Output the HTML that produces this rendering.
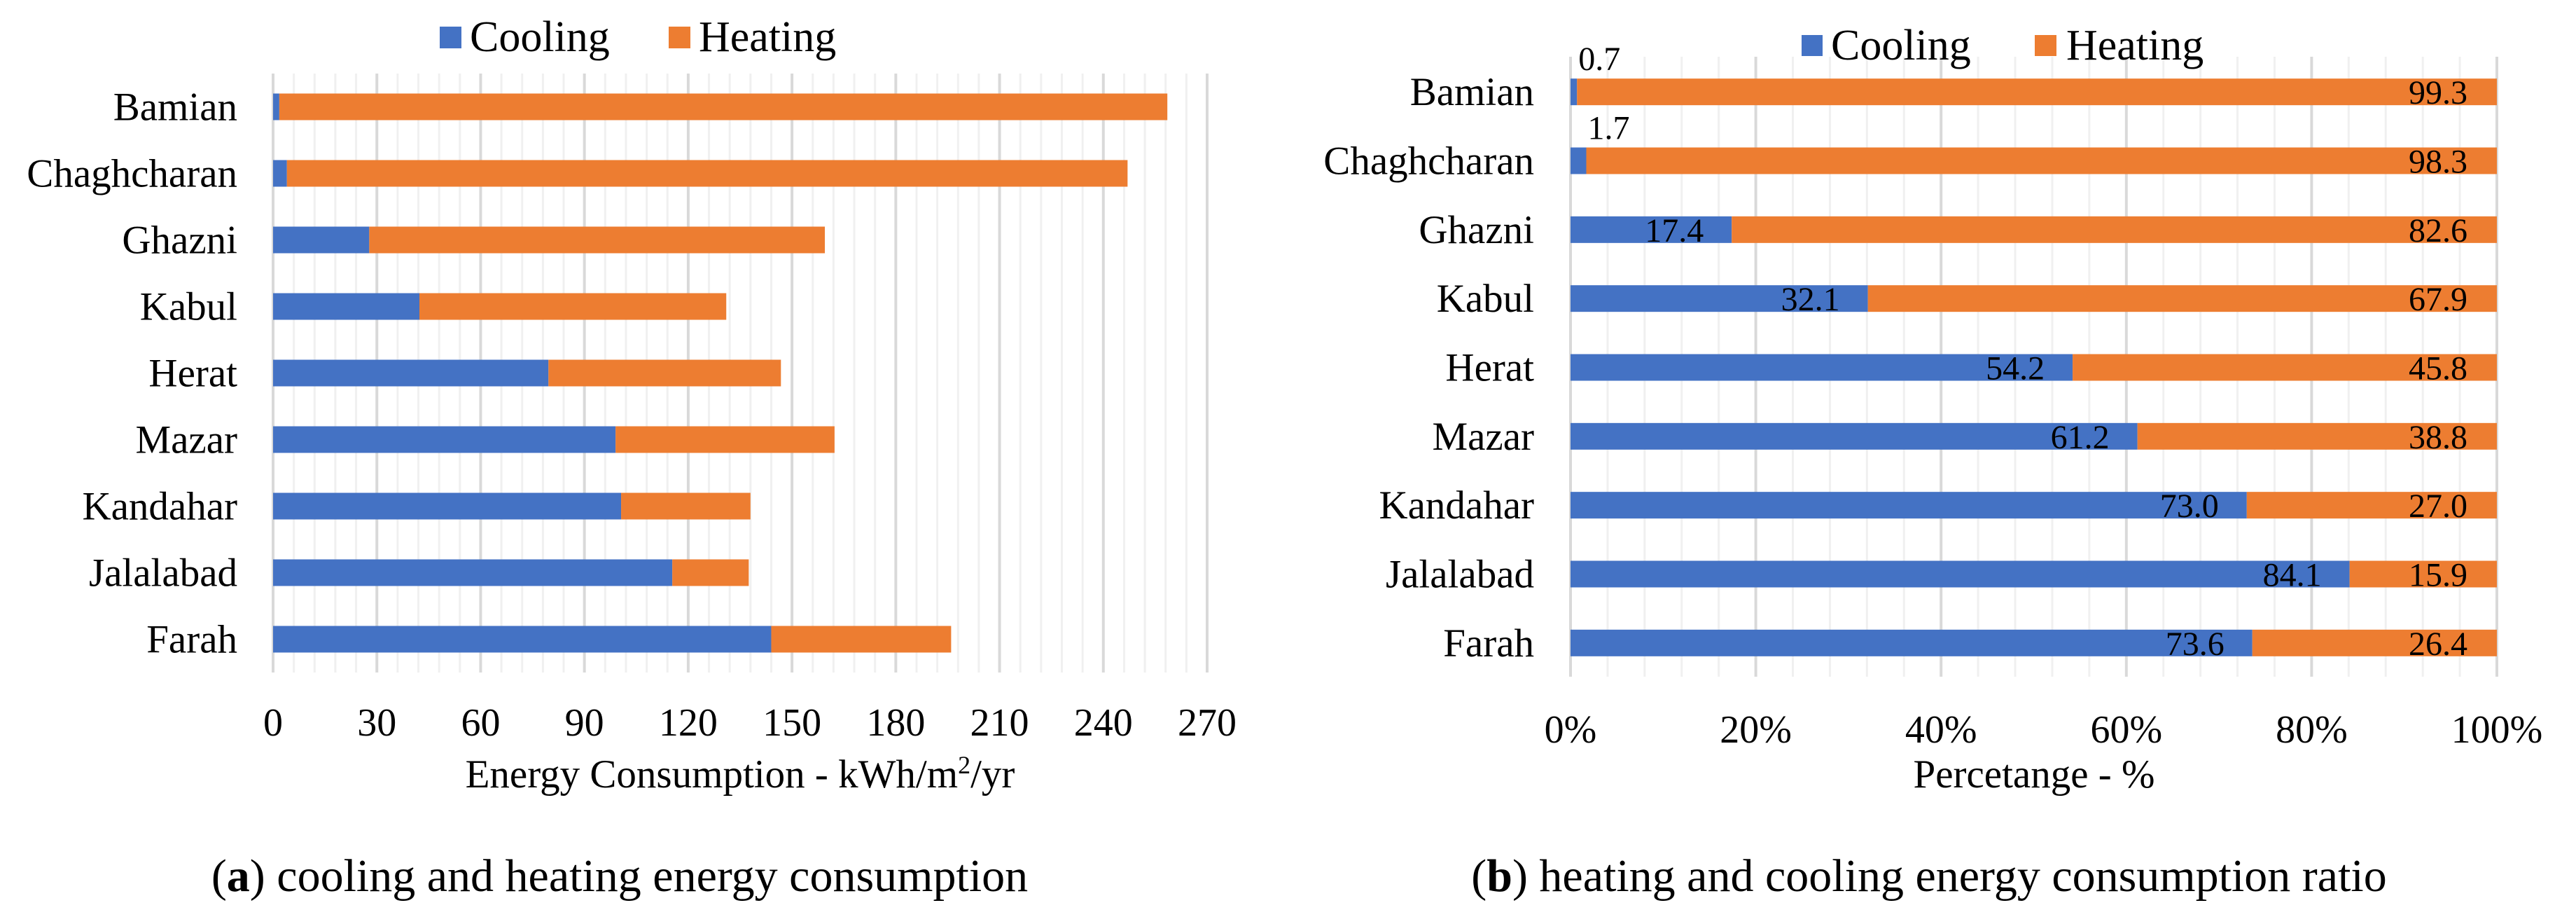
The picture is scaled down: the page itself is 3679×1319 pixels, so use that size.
<!DOCTYPE html>
<html><head><meta charset="utf-8"><style>
html,body{margin:0;padding:0;background:#fff;}
svg, svg text{font-family:"Liberation Serif","Times New Roman",serif;}
</style></head><body>
<svg id="svg" width="3679" height="1314" viewBox="0 0 3679 1314" xmlns="http://www.w3.org/2000/svg" font-family="Liberation Serif, serif">
<g id="chartA"></g>
<g id="chartB"></g>
</svg>
<script>
const categories = ["Bamian","Chaghcharan","Ghazni","Kabul","Herat","Mazar","Kandahar","Jalalabad","Farah"];
const coolingA = [1.8, 4, 27.8, 42.3, 79.6, 99, 100.6, 115.4, 144];
const heatingA = [256.7, 243, 131.7, 88.7, 67.2, 63.3, 37.4, 22.1, 52];
const ticksA = [0,30,60,90,120,150,180,210,240,270];
const coolingB = [0.7, 1.7, 17.4, 32.1, 54.2, 61.2, 73.0, 84.1, 73.6];
const heatingB = [99.3, 98.3, 82.6, 67.9, 45.8, 38.8, 27.0, 15.9, 26.4];
const ticksB = [0,20,40,60,80,100];

const NS = "http://www.w3.org/2000/svg";
const BLUE = "#4472C4", ORANGE = "#ED7D31";
function mk(parent, tag, attrs, text){
  const e = document.createElementNS(NS, tag);
  for (const k in attrs) e.setAttribute(k, attrs[k]);
  if (tag === 'text') e.setAttribute('font-family', 'Liberation Serif, serif');
  if (text !== undefined) e.textContent = text;
  parent.appendChild(e);
  return e;
}

// ---------- Chart A ----------
(function(){
  const g = document.getElementById('chartA');
  const x0 = 390, x1 = 1724, top = 105, bottom = 960, vmax = 270;
  const xs = v => x0 + (x1 - x0) * v / vmax;
  const band = (bottom - top) / categories.length;
  const barH = 38;
  for (let v = 0; v <= vmax; v += 6) {
    const major = v % 30 === 0;
    const l = mk(g, 'line', {x1: xs(v), x2: xs(v), y1: top, y2: bottom, stroke: major ? '#d9d9d9' : '#f0f0f0', 'stroke-width': major ? 4 : 3});
    
    
  }
  categories.forEach((c, i) => {
    const cy = top + band * (i + 0.5);
    const t = mk(g, 'text', {x: 339, y: cy + 19, 'text-anchor': 'end', 'font-size': 57}, c);
    
    
    const b1 = mk(g, 'rect', {x: xs(0), y: cy - barH / 2, width: xs(coolingA[i]) - xs(0), height: barH, fill: BLUE});
    
    
    const b2 = mk(g, 'rect', {x: xs(coolingA[i]), y: cy - barH / 2, width: xs(coolingA[i] + heatingA[i]) - xs(coolingA[i]), height: barH, fill: ORANGE});
    
    
  });
  ticksA.forEach(v => {
    const t = mk(g, 'text', {x: xs(v), y: 1050, 'text-anchor': 'middle', 'font-size': 56}, String(v));
    
    
  });
  const at = mk(g, 'text', {x: 1057, y: 1124, 'text-anchor': 'middle', 'font-size': 57});
  at.innerHTML = 'Energy Consumption - kWh/m<tspan dy="-20" font-size="36">2</tspan><tspan dy="20">/yr</tspan>';
  
  
  const cap = mk(g, 'text', {x: 885, y: 1272, 'text-anchor': 'middle', 'font-size': 66});
  cap.innerHTML = '(<tspan font-weight="bold">a</tspan>) cooling and heating energy consumption';
  
  
  const ls1 = mk(g, 'rect', {x: 628, y: 38, width: 31, height: 31, fill: BLUE});
  
  
  const lt1 = mk(g, 'text', {x: 671, y: 73, 'font-size': 62}, 'Cooling');
  
  
  const ls2 = mk(g, 'rect', {x: 955, y: 38, width: 31, height: 31, fill: ORANGE});
  
  
  const lt2 = mk(g, 'text', {x: 998, y: 73, 'font-size': 62}, 'Heating');
  
  
})();

// ---------- Chart B ----------
(function(){
  const g = document.getElementById('chartB');
  const x0 = 2243, x1 = 3566, top = 81, bottom = 966, vmax = 100;
  const xs = v => x0 + (x1 - x0) * v / vmax;
  const band = (bottom - top) / categories.length;
  const barH = 38;
  for (let v = 0; v <= vmax; v += 4) {
    const major = v % 20 === 0;
    const l = mk(g, 'line', {x1: xs(v), x2: xs(v), y1: top, y2: bottom, stroke: major ? '#d9d9d9' : '#f0f0f0', 'stroke-width': major ? 4 : 3});
    
    
  }
  categories.forEach((c, i) => {
    const cy = top + band * (i + 0.5) + 1;
    const t = mk(g, 'text', {x: 2191, y: cy + 19, 'text-anchor': 'end', 'font-size': 57}, c);
    
    
    const b1 = mk(g, 'rect', {x: xs(0), y: cy - barH / 2, width: xs(coolingB[i]) - xs(0), height: barH, fill: BLUE});
    
    
    const b2 = mk(g, 'rect', {x: xs(coolingB[i]), y: cy - barH / 2, width: xs(coolingB[i] + heatingB[i]) - xs(coolingB[i]), height: barH, fill: ORANGE});
    
    
    let lc;
    if (coolingB[i] < 5) {
      lc = mk(g, 'text', {x: xs(coolingB[i]) + 2, y: cy - barH / 2 - 12, 'text-anchor': 'start', 'font-size': 48}, coolingB[i].toFixed(1));
    } else {
      lc = mk(g, 'text', {x: xs(coolingB[i]) - 40, y: cy + 17, 'text-anchor': 'end', 'font-size': 48}, coolingB[i].toFixed(1));
    }
    
    
    const lh = mk(g, 'text', {x: xs(coolingB[i] + heatingB[i]) - 42, y: cy + 17, 'text-anchor': 'end', 'font-size': 48}, heatingB[i].toFixed(1));
    
    
  });
  ticksB.forEach(v => {
    const t = mk(g, 'text', {x: xs(v), y: 1060, 'text-anchor': 'middle', 'font-size': 56}, v + '%');
    
    
  });
  const at = mk(g, 'text', {x: 2905, y: 1124, 'text-anchor': 'middle', 'font-size': 57}, 'Percetange - %');
  
  
  const cap = mk(g, 'text', {x: 2755, y: 1272, 'text-anchor': 'middle', 'font-size': 66});
  cap.innerHTML = '(<tspan font-weight="bold">b</tspan>) heating and cooling energy consumption ratio';
  
  
  const ls1 = mk(g, 'rect', {x: 2573, y: 50, width: 30, height: 30, fill: BLUE});
  
  
  const lt1 = mk(g, 'text', {x: 2615, y: 85, 'font-size': 62}, 'Cooling');
  
  
  const ls2 = mk(g, 'rect', {x: 2906, y: 50, width: 31, height: 30, fill: ORANGE});
  
  
  const lt2 = mk(g, 'text', {x: 2951, y: 85, 'font-size': 62}, 'Heating');
  
  
})();
</script>
</body></html>
